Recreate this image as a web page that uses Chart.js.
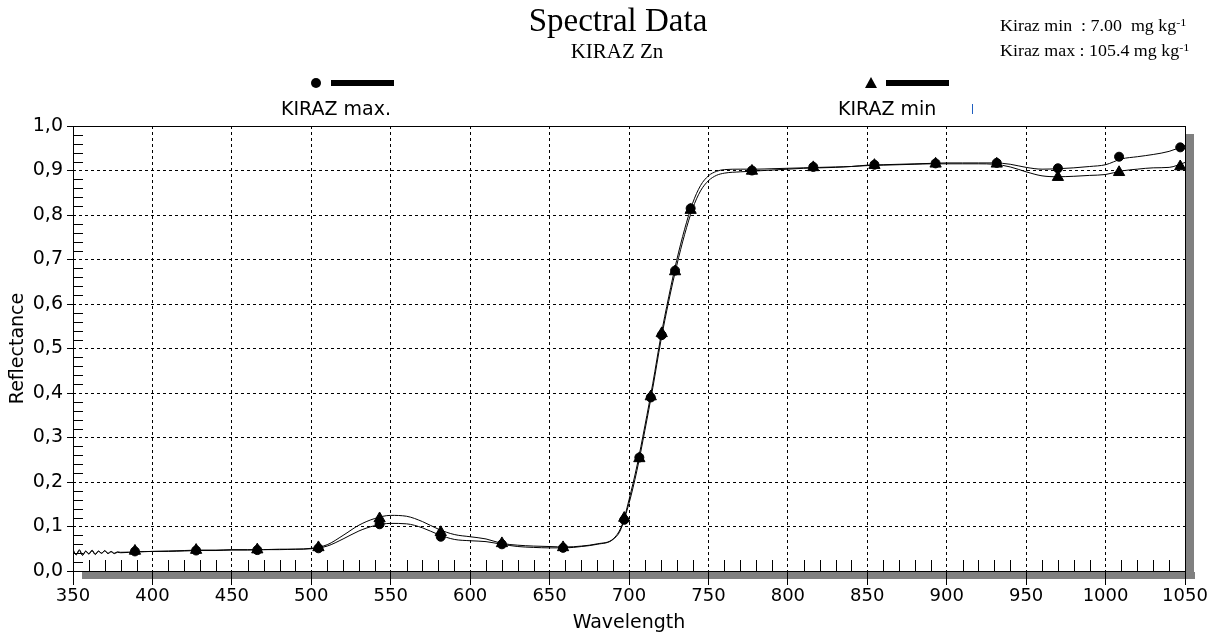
<!DOCTYPE html>
<html>
<head>
<meta charset="utf-8">
<script src="https://cdn.jsdelivr.net/npm/chart.js@4.4.0/dist/chart.umd.min.js"></script>
<style>
html, body { margin: 0; padding: 0; background: #fff; }
</style>
</head>
<body>
<canvas id="spectra" width="1227" height="639"></canvas>
<script>
// Spectral reflectance, KIRAZ Zn (min / max samples)

const wavelengths = [
    350, 352, 354, 356, 358, 360, 362, 364, 366, 368, 370, 372, 374, 376, 378, 380,
    390, 400, 410, 420, 430, 440, 450, 460, 470, 480, 490, 500, 510, 520, 530, 540,
    550, 560, 570, 580, 590, 600, 610, 620, 630, 640, 650, 660, 670, 680, 690, 695,
    700, 705, 710, 715, 720, 725, 730, 735, 740, 745, 750, 755, 760, 770, 780,
    790, 800, 810, 820, 830, 840, 850, 860, 870, 880, 890, 900, 910, 920, 930, 940,
    950, 960, 970, 980, 990, 1000, 1010, 1020, 1030, 1040, 1050
];

const kirazMax = [
    0.045, 0.037, 0.048, 0.036, 0.045, 0.039, 0.047, 0.038, 0.045, 0.040, 0.046, 0.040, 0.044, 0.040, 0.043, 0.042,
    0.043, 0.044, 0.044, 0.045, 0.046, 0.046, 0.047, 0.047, 0.048, 0.048, 0.049, 0.050, 0.056, 0.072, 0.090, 0.102,
    0.107, 0.106, 0.097, 0.082, 0.071, 0.068, 0.066, 0.060, 0.055, 0.053, 0.052, 0.052, 0.055, 0.060, 0.071, 0.095,
    0.160, 0.236, 0.326, 0.422, 0.526, 0.616, 0.698, 0.768, 0.826, 0.866, 0.888, 0.898, 0.902, 0.903, 0.903,
    0.904, 0.905, 0.906, 0.907, 0.908, 0.909, 0.912, 0.913, 0.914, 0.915, 0.916, 0.917, 0.917, 0.917, 0.917, 0.914,
    0.907, 0.903, 0.904, 0.906, 0.909, 0.913, 0.926, 0.931, 0.936, 0.943, 0.956
];

const kirazMin = [
    0.049, 0.036, 0.046, 0.035, 0.044, 0.038, 0.045, 0.037, 0.044, 0.040, 0.045, 0.039, 0.043, 0.039, 0.042, 0.041,
    0.043, 0.044, 0.045, 0.046, 0.047, 0.047, 0.048, 0.048, 0.048, 0.049, 0.049, 0.051, 0.059, 0.080, 0.103, 0.118,
    0.125, 0.123, 0.111, 0.094, 0.082, 0.077, 0.072, 0.062, 0.058, 0.056, 0.055, 0.054, 0.056, 0.061, 0.072, 0.098,
    0.152, 0.226, 0.316, 0.412, 0.516, 0.606, 0.686, 0.756, 0.814, 0.854, 0.877, 0.889, 0.894, 0.897, 0.899,
    0.901, 0.903, 0.905, 0.906, 0.907, 0.909, 0.911, 0.912, 0.913, 0.914, 0.915, 0.915, 0.915, 0.915, 0.914, 0.908,
    0.897, 0.888, 0.886, 0.887, 0.889, 0.891, 0.899, 0.903, 0.906, 0.907, 0.918
];

// symbol positions along the curves
const markerWavelengths = [389, 427.5, 466, 504.5, 543, 581.5, 620, 658.5, 697, 706.5, 713.7, 720.6, 729, 738.8,
    777.4, 816, 854.5, 893, 931.5, 970, 1008.5, 1047];
const markerMax = [0.044, 0.046, 0.047, 0.051, 0.105, 0.077, 0.060, 0.052, 0.115, 0.255, 0.390, 0.530, 0.675, 0.815,
    0.900, 0.908, 0.913, 0.916, 0.917, 0.905, 0.931, 0.952];
const markerMin = [0.045, 0.047, 0.048, 0.053, 0.118, 0.087, 0.062, 0.053, 0.119, 0.253, 0.392, 0.534, 0.673, 0.811,
    0.899, 0.907, 0.912, 0.915, 0.915, 0.885, 0.896, 0.909];

const yTicks = ['0,0', '0,1', '0,2', '0,3', '0,4', '0,5', '0,6', '0,7', '0,8', '0,9', '1,0'];

const toPoints = (xs, ys) => xs.map((x, i) => ({ x: x, y: ys[i] }));

// gray drop shadow under / right of the plot frame
const frameShadow = {
    id: 'frameShadow',
    beforeDraw(chart) {
        const { ctx, chartArea: a } = chart;
        ctx.save();
        ctx.fillStyle = '#808080';
        ctx.fillRect(a.left + 9, a.bottom + 1, a.right - a.left + 1, 7);
        ctx.fillRect(a.right + 1, a.top + 8, 8, a.bottom - a.top);
        ctx.restore();
    }
};

// solid frame + inward minor ticks
const frameAndMinorTicks = {
    id: 'frameAndMinorTicks',
    afterDatasetsDraw(chart) {
        const { ctx, chartArea: a, scales } = chart;
        ctx.save();
        ctx.strokeStyle = '#000';
        ctx.lineWidth = 1;
        ctx.beginPath();
        ctx.moveTo(a.left + 0.5, a.bottom + 0.5);
        ctx.lineTo(a.left + 0.5, a.top + 0.5);
        ctx.lineTo(a.right + 0.5, a.top + 0.5);
        ctx.lineTo(a.right + 0.5, a.bottom + 0.5);
        ctx.lineTo(a.left + 0.5, a.bottom + 0.5);
        for (let v = 360; v < 1050; v += 10) {
            if (v % 50 === 0) continue;
            const x = Math.round(scales.x.getPixelForValue(v)) + 0.5;
            ctx.moveTo(x, a.bottom);
            ctx.lineTo(x, a.bottom - 11);
        }
        for (let k = 1; k < 50; k++) {
            if (k % 5 === 0) continue;
            const y = Math.round(scales.y.getPixelForValue(k * 0.02)) + 0.5;
            ctx.moveTo(a.left, y);
            ctx.lineTo(a.left + 10, y);
        }
        ctx.stroke();
        ctx.restore();
    }
};

// header texts and the legend (symbol, bar, caption)
const header = {
    id: 'header',
    afterDraw(chart) {
        const ctx = chart.ctx;
        ctx.save();
        ctx.fillStyle = '#000';
        ctx.textAlign = 'center';
        ctx.textBaseline = 'alphabetic';
        ctx.font = '33px "Liberation Serif"';
        ctx.fillText('Spectral Data', 618, 31);
        ctx.font = '21px "Liberation Serif"';
        ctx.fillText('KIRAZ Zn', 617, 58);

        // the reference text is slightly stretched horizontally
        const unitLine = (text, y) => {
            ctx.save();
            ctx.translate(1000, y);
            ctx.scale(1.12, 1);
            ctx.textAlign = 'left';
            ctx.font = '16px "Liberation Serif"';
            ctx.fillText(text, 0, 0);
            const w = ctx.measureText(text).width;
            ctx.font = '11px "Liberation Serif"';
            ctx.fillText('-1', w, -5);
            ctx.restore();
        };
        unitLine('Kiraz min  : 7.00  mg kg', 31);
        unitLine('Kiraz max : 105.4 mg kg', 56);

        const legendItem = (ds, mx, textX) => {
            const my = 83;
            ctx.beginPath();
            if (ds.pointStyle === 'triangle') {
                ctx.moveTo(mx, my - 6);
                ctx.lineTo(mx + 6, my + 5);
                ctx.lineTo(mx - 6, my + 5);
                ctx.closePath();
            } else {
                ctx.arc(mx, my, 5, 0, Math.PI * 2);
            }
            ctx.fill();
            ctx.fillRect(mx + 15, my - 3, 63, 6);
            ctx.textAlign = 'left';
            ctx.textBaseline = 'middle';
            ctx.font = '19px "DejaVu Sans"';
            ctx.fillText(ds.label, textX, 110);
        };
        const sets = chart.data.datasets;
        legendItem(sets[2], 316, 281);
        legendItem(sets[3], 871, 838);

        // small blue mark right of the second caption
        ctx.fillStyle = '#1f5fbf';
        ctx.fillRect(972, 104, 1, 10);
        ctx.restore();
    }
};

const axisFont = { family: 'DejaVu Sans', size: 18 };

new Chart(document.getElementById('spectra'), {
    type: 'line',
    data: {
        datasets: [
            {
                label: 'KIRAZ max',
                data: toPoints(wavelengths, kirazMax),
                borderColor: '#000',
                borderWidth: 1,
                pointRadius: 0,
                cubicInterpolationMode: 'monotone'
            },
            {
                label: 'KIRAZ min',
                data: toPoints(wavelengths, kirazMin),
                borderColor: '#000',
                borderWidth: 1,
                pointRadius: 0,
                cubicInterpolationMode: 'monotone'
            },
            {
                label: 'KIRAZ max.',
                data: toPoints(markerWavelengths, markerMax),
                showLine: false,
                pointStyle: 'circle',
                pointRadius: 4.5,
                backgroundColor: '#000',
                borderColor: '#000'
            },
            {
                label: 'KIRAZ min',
                data: toPoints(markerWavelengths, markerMin),
                showLine: false,
                pointStyle: 'triangle',
                pointRadius: 6.5,
                backgroundColor: '#000',
                borderColor: '#000'
            }
        ]
    },
    options: {
        responsive: false,
        animation: false,
        layout: { padding: { top: 126, right: 42, left: 0, bottom: 0 } },
        plugins: {
            legend: { display: false },
            tooltip: { enabled: false }
        },
        scales: {
            x: {
                type: 'linear',
                min: 350,
                max: 1050,
                afterFit: (s) => { s.height = 68; },
                ticks: {
                    stepSize: 50,
                    color: '#000',
                    font: axisFont,
                    padding: 1,
                    maxRotation: 0,
                    autoSkip: false,
                    callback: (v) => String(v)
                },
                grid: { color: '#000', lineWidth: 1, tickLength: 14, tickColor: '#000' },
                border: { display: false, dash: [3, 3] },
                title: { display: true, text: 'Wavelength', color: '#000', font: { family: 'DejaVu Sans', size: 19 }, padding: { top: 0, bottom: 5 } }
            },
            y: {
                min: 0,
                max: 1,
                afterFit: (s) => { s.width = 73; },
                ticks: {
                    stepSize: 0.1,
                    color: '#000',
                    font: { family: 'DejaVu Sans', size: 19 },
                    padding: 4,
                    callback: (v) => yTicks[Math.round(v * 10)]
                },
                grid: { color: '#000', lineWidth: 1, tickLength: 6, tickColor: '#000' },
                border: { display: false, dash: [3, 3] },
                title: { display: true, text: 'Reflectance', color: '#000', font: { family: 'DejaVu Sans', size: 19 }, padding: { top: 7, bottom: 0 } }
            }
        }
    },
    plugins: [frameShadow, frameAndMinorTicks, header]
});
</script>
</body>
</html>
